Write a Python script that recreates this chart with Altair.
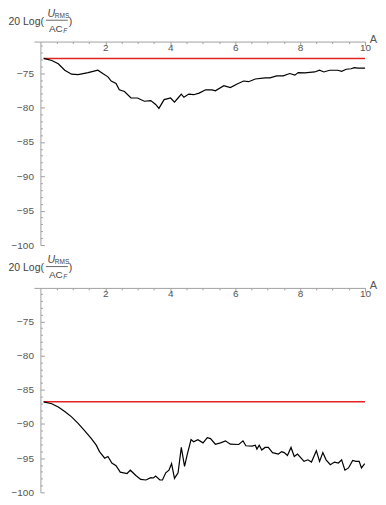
import altair as alt
import pandas as pd

# ---- data ----
top_A = [0.1, 0.35, 0.55, 0.75, 0.96, 1.16, 1.47, 1.77, 1.92, 2.08, 2.18, 2.33, 2.43, 2.59, 2.79, 2.99,
         3.2, 3.4, 3.55, 3.65, 3.81, 4.01, 4.13, 4.24, 4.34, 4.42, 4.57, 4.72, 4.89, 5.09, 5.29, 5.39,
         5.65, 5.85, 6.06, 6.26, 6.41, 6.62, 6.92, 7.07, 7.28, 7.48, 7.68, 7.84, 7.94, 8.14, 8.45, 8.6,
         8.73, 8.91, 9.16, 9.28, 9.42, 9.57, 9.67, 9.77, 10.0]
top_db = [-72.85, -73.15, -73.63, -74.57, -75.14, -75.2, -74.91, -74.57, -75.06, -75.53, -76.14, -76.48,
          -77.42, -77.66, -78.61, -78.61, -79.08, -78.98, -79.55, -80.12, -78.84, -78.61, -79.22, -78.61,
          -78.04, -78.51, -78.04, -78.13, -77.9, -77.42, -77.42, -77.56, -76.81, -77.09, -76.57, -76.14,
          -76.24, -75.85, -75.67, -75.67, -75.38, -75.38, -75.05, -75.28, -74.91, -74.96, -74.82, -74.57,
          -74.82, -74.57, -74.57, -74.72, -74.43, -74.35, -74.2, -74.25, -74.25]

bot_A = [0.1, 0.35, 0.55, 0.75, 0.96, 1.16, 1.36, 1.57, 1.72, 1.82, 1.98, 2.08, 2.2, 2.33, 2.46, 2.67,
         2.77, 2.94, 3.09, 3.25, 3.4, 3.48, 3.55, 3.68, 3.76, 3.86, 3.96, 4.04, 4.13, 4.24, 4.34, 4.44,
         4.52, 4.64, 4.72, 4.85, 5.01, 5.14, 5.24, 5.39, 5.55, 5.7, 5.85, 6.11, 6.24, 6.33, 6.52, 6.62,
         6.67, 6.74, 6.82, 6.92, 7.02, 7.15, 7.33, 7.43, 7.51, 7.61, 7.72, 7.82, 7.92, 8.12, 8.24, 8.35,
         8.5, 8.6, 8.7, 8.8, 8.93, 9.06, 9.18, 9.28, 9.38, 9.49, 9.62, 9.72, 9.82, 9.89, 9.99]
bot_db = [-86.76, -87.04, -87.53, -88.19, -88.96, -89.9, -90.96, -92.14, -93.1, -94.04, -95.0, -94.76,
          -95.71, -96.1, -97.04, -97.24, -96.76, -97.53, -98.1, -98.19, -97.86, -97.9, -97.61, -98.19,
          -98.19, -97.14, -96.76, -95.81, -97.96, -97.14, -93.43, -96.19, -94.53, -92.29, -92.61, -92.29,
          -92.76, -92.0, -92.14, -92.96, -92.76, -92.47, -92.96, -93.0, -92.47, -93.19, -93.24, -93.1,
          -93.67, -93.1, -93.81, -93.43, -93.43, -94.19, -94.39, -94.04, -94.19, -94.61, -93.43, -94.76,
          -94.39, -95.47, -95.24, -95.57, -93.9, -95.47, -94.19, -95.24, -95.96, -95.57, -95.71, -95.24,
          -96.76, -96.43, -95.33, -95.47, -95.47, -96.43, -95.81]

ref_A = [0.1, 10.0]
top_ref = -72.85
bot_ref = -86.76

x_ticks = [0.5 * i for i in range(1, 21)]
y_labels = [-100, -95, -90, -85, -80, -75]
y_ticks = list(range(-100, -70))

title_parts = ["20 Log(", "U", "RMS", "AC", "F", ")"]
x_title = "A"

# ---- styling ----
W = 332
X0, X1 = -0.2, 10.0
P = W * (0 - X0) / (X1 - X0)
AXIS = "#a0a0a0"
LAB = "#555555"
FONT = "Liberation Sans"
ONE = pd.DataFrame({"d": [0]})


def txt(s, x, y, size=10.5, italic=False, color="#444444", align="left"):
    return alt.Chart(ONE).mark_text(
        text=s, align=align, baseline="middle", font=FONT, fontSize=size,
        fontStyle="italic" if italic else "normal", color=color
    ).encode(x=alt.value(x), y=alt.value(y))


def panel(A, db, ref, ymax, H):
    xs = alt.Scale(domain=[X0, X1], nice=False, zero=False)
    ys = alt.Scale(domain=[-100, ymax], nice=False, zero=False)
    xaxis = alt.Axis(
        orient="bottom", offset=-H, values=x_ticks, title=None,
        labelExpr="datum.value % 2 == 0 ? format(datum.value, 'd') : ''",
        labelOverlap=False, labelFlush=False, labelBound=False,
        tickSize={"condition": {"test": "datum.value % 2 == 0", "value": 4}, "value": 2},
        labelPadding=-3, grid=False,
    )
    yaxis_lab = alt.Axis(orient="left", offset=-P, values=y_labels, ticks=False,
                         labelPadding=7, title=None, grid=False, format="d", labelOverlap=False)
    yaxis_tick = alt.Axis(orient="right", offset=-(W - P), values=y_ticks, labels=False,
                          domain=False, title=None, grid=False,
                          tickSize={"condition": {"test": "datum.value % 5 == 0", "value": 4}, "value": 2})
    red = alt.Chart(pd.DataFrame({"A": ref_A, "v": [ref, ref]})).mark_line(
        color="#e3231f", strokeWidth=1.5
    ).encode(x=alt.X("A:Q", scale=xs, axis=xaxis), y=alt.Y("v:Q", scale=ys, axis=yaxis_lab))
    blk = alt.Chart(pd.DataFrame({"A": A, "v": db})).mark_line(
        color="black", strokeWidth=1.2
    ).encode(x=alt.X("A:Q", scale=xs, axis=xaxis), y=alt.Y("v:Q", scale=ys, axis=yaxis_tick))
    bar = alt.Chart(ONE).mark_rule(color="#444444", strokeWidth=0.8).encode(
        x=alt.value(12), x2=alt.value(34), y=alt.value(-21.4))
    parts = [
        txt(title_parts[0], -25.5, -19.7),
        txt(title_parts[1], 13.5, -27.7, italic=True),
        txt(title_parts[2], 21, -25.7, size=6.5),
        txt(title_parts[3], 15, -12.7, size=10),
        txt(title_parts[4], 29.3, -10.9, size=6.5, italic=True),
        txt(title_parts[5], 35, -19.7),
        txt(x_title, W + 8.5, -2, size=11, color=LAB, align="center"),
    ]
    return alt.layer(red, blk, bar, *parts).resolve_axis(y="independent").properties(width=W, height=H)


top = panel(top_A, top_db, top_ref, -70.4, 204)
bot = panel(bot_A, bot_db, bot_ref, -70.1, 205)

chart = alt.vconcat(top, bot, spacing=5).properties(padding=0).configure_view(stroke=None).configure_axis(
    domainColor=AXIS, tickColor=AXIS, labelColor=LAB, labelFont=FONT, labelFontSize=10,
    domainWidth=1, tickWidth=1
)

chart.save("out.html", embed_options={"renderer": "svg", "actions": False})
